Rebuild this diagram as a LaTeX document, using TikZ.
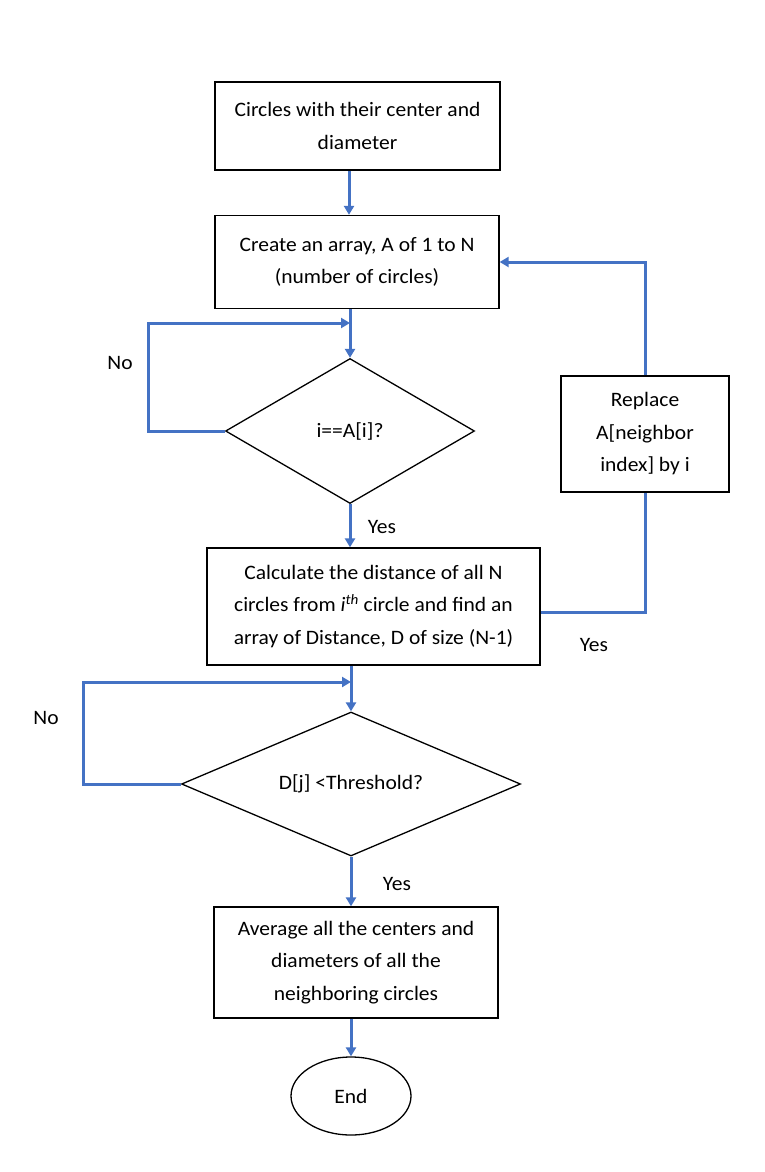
\documentclass[tikz,border=0pt]{standalone}
\usepackage{fontspec}
\setmainfont{Carlito}[FakeStretch=1.05]
\usetikzlibrary{shapes.geometric,arrows.meta}

\definecolor{flowblue}{RGB}{68,114,196}

\tikzset{every picture/.style={line width=0.75pt}}
\tikzset{
  procbox/.style={draw=black,line width=1.3pt,fill=white,align=center,inner sep=0pt},
  decide/.style={diamond,draw=black,line width=1.3pt,inner sep=0pt,text width=1pt},
  flow/.style={draw=flowblue,line width=3pt,-{Triangle[length=9pt,width=10pt]}},
  flowline/.style={draw=flowblue,line width=3pt},
  lbl/.style={inner sep=0.75pt,anchor=center}
}

\begin{document}
\begin{tikzpicture}[x=1pt,y=1pt,yscale=-1,xscale=1,font=\fontsize{20.5}{32.5}\selectfont]
\useasboundingbox (0,0) rectangle (764,1172);

%Shape: Rectangle [id:start]
\node[procbox,minimum width=285pt,minimum height=88pt] (start) at (357.5,126) {Circles with their center and\\diameter};
%Shape: Rectangle [id:arr]
\node[procbox,minimum width=284pt,minimum height=93pt] (arr) at (357,262) {Create an array, A of 1 to N\\(number of circles)};
%Shape: Diamond [id:chk]
\node[decide,minimum width=249pt,minimum height=145pt] (chk) at (350,431) {};
\node[lbl] (chktxt) at (350,431) {i==A[i]?};
%Shape: Rectangle [id:dist]
\node[procbox,minimum width=333pt,minimum height=117pt] (dist) at (373.5,606.5) {Calculate the distance of all N\\circles from \textit{i}\textsuperscript{\textit{th}} circle and find an\\array of Distance, D of size (N-1)};
%Shape: Rectangle [id:repl]
\node[procbox,minimum width=168pt,minimum height=116pt] (repl) at (645,434) {Replace\\A[neighbor\\index] by i};
%Shape: Diamond [id:thr]
\node[decide,minimum width=339pt,minimum height=144pt] (thr) at (351,784) {};
\node[lbl] (thrtxt) at (351,784) {D[j] <Threshold?};
%Shape: Rectangle [id:avg]
\node[procbox,minimum width=284pt,minimum height=111pt] (avg) at (356,962.5) {Average all the centers and\\diameters of all the\\neighboring circles};
%Shape: Ellipse [id:fin]
\node[ellipse,draw=black,line width=1.3pt,minimum width=120pt,minimum height=78pt,inner sep=0pt] (fin) at (351,1096) {End};

%Joints
\coordinate (j1) at (350,323);
\coordinate (j2) at (351,682);

%Straight Lines
\draw[flow] (start.south -| 349,0) -- (arr.north -| 349,0);
\draw[flow] (arr.south -| chk.north) -- (chk.north);
\draw[flow] (chk.west) -- ++(-76,0) |- (j1);
\draw[flow] (chk.south) -- (dist.north -| chk.south);
\draw[flowline] (dist.east |- 0,612) -| (repl.south);
\draw[flow] (repl.north) |- (arr.east);
\draw[flow] (dist.south -| thr.north) -- (thr.north);
\draw[flow] (thr.west) -- ++(-97,0) |- (j2);
\draw[flow] (thr.south) -- (avg.north -| thr.south);
\draw[flow] (avg.south -| fin.north) -- (fin.north);

% Text Node
\node[lbl] (no1) at (120,363) {No};
% Text Node
\node[lbl] (yes1) at (382,527) {Yes};
% Text Node
\node[lbl] (yes2) at (594,645) {Yes};
% Text Node
\node[lbl] (no2) at (46,718) {No};
% Text Node
\node[lbl] (yes3) at (397,884) {Yes};

\end{tikzpicture}
\end{document}
